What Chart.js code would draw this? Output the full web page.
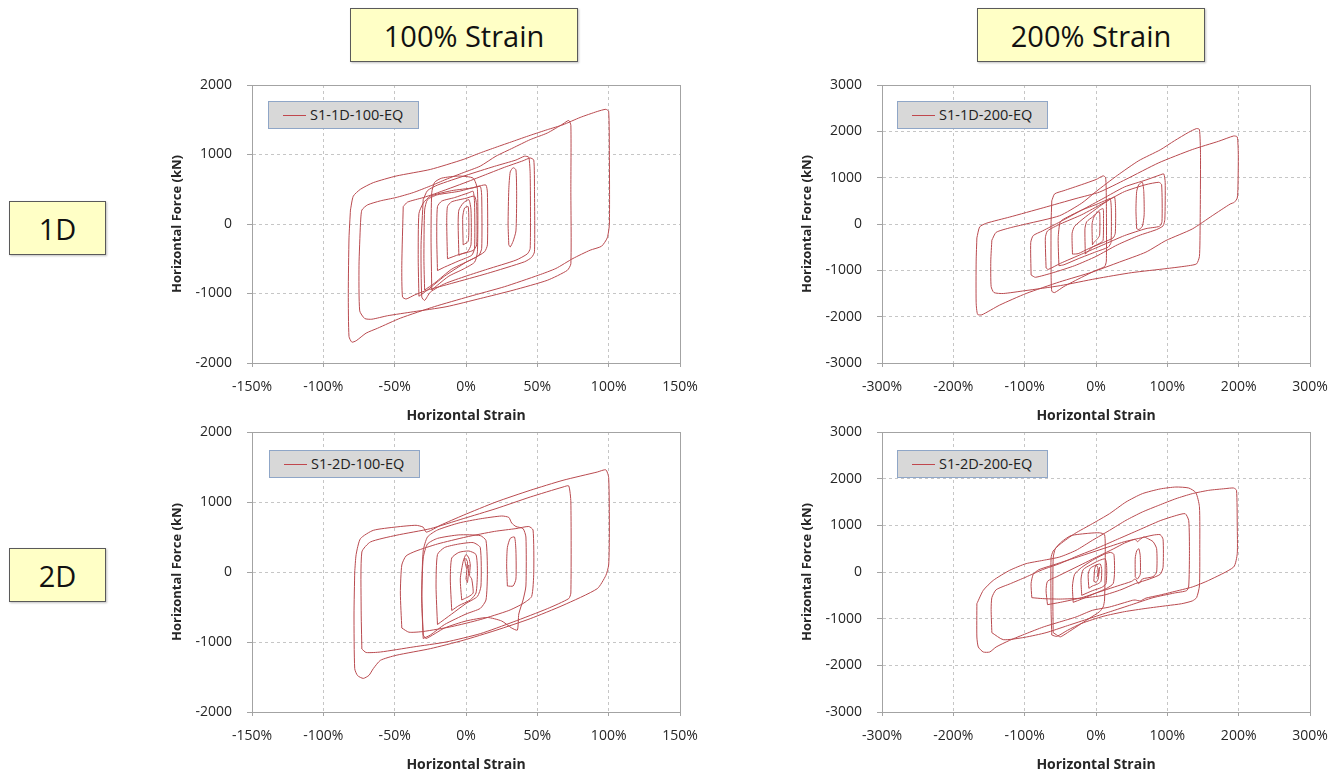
<!DOCTYPE html>
<html><head><meta charset="utf-8">
<script src="https://cdn.jsdelivr.net/npm/chart.js@4.4.1/dist/chart.umd.min.js"></script>
<style>
html,body{margin:0;padding:0;background:#fff;}
body{width:1338px;height:774px;overflow:hidden;position:relative;font-family:'Open Sans',sans-serif;}
.box{position:absolute;background:#ffffc6;border:1px solid #5a5a5a;box-shadow:1px 1px 2px rgba(0,0,0,0.25);display:flex;align-items:center;justify-content:center;font-size:29px;color:#111;box-sizing:border-box;}
canvas{position:absolute;}
.leg{position:absolute;width:151px;height:28px;background:#d8d8d8;border:1px solid #8fa6c7;box-sizing:border-box;font-size:14.5px;color:#222;}
.leg .ln{position:absolute;left:14px;top:13px;width:23px;height:1px;background:#c0474d;}
.leg .tx{position:absolute;left:41px;top:2px;line-height:22px;white-space:nowrap;}
</style></head><body>
<div class="box" style="left:350px;top:8px;width:228px;height:54px">100% Strain</div>
<div class="box" style="left:977px;top:8px;width:228px;height:54px">200% Strain</div>
<div class="box" style="left:9px;top:201px;width:97px;height:54px">1D</div>
<div class="box" style="left:9px;top:548px;width:97px;height:54px">2D</div>

<canvas id="c1" width="550" height="369" style="left:160px;top:61px"></canvas>
<canvas id="c2" width="550" height="369" style="left:790px;top:61px"></canvas>
<canvas id="c3" width="550" height="371" style="left:160px;top:408px"></canvas>
<canvas id="c4" width="550" height="371" style="left:790px;top:408px"></canvas>

<div class="leg" style="left:268px;top:101px"><span class="ln"></span><span class="tx" id="t1"></span></div>
<div class="leg" style="left:897px;top:101px"><span class="ln"></span><span class="tx" id="t2"></span></div>
<div class="leg" style="left:269px;top:450px"><span class="ln"></span><span class="tx" id="t3"></span></div>
<div class="leg" style="left:897px;top:450px"><span class="ln"></span><span class="tx" id="t4"></span></div>

<script>
// ---- series names ----
const seriesNames = ['S1-1D-100-EQ', 'S1-1D-200-EQ', 'S1-2D-100-EQ', 'S1-2D-200-EQ'];

// ---- tick labels ----
const xTicks100 = [-150, -100, -50, 0, 50, 100, 150];
const yTicks100 = [-2000, -1000, 0, 1000, 2000];
const xTicks200 = [-300, -200, -100, 0, 100, 200, 300];
const yTicks200 = [-3000, -2000, -1000, 0, 1000, 2000, 3000];

// ---- data: [strain %, force kN] loops ----
const loops1D100 = [
 [[-81,200],[-79,400],[-74,500],[-65,595],[-49,690],[-25,785],[-2,928],[10,1023],[21,1104],[33,1190],[45,1276],[57,1357],[68,1428],[80,1533],[92,1619],[98,1650],[100,1620],[100.5,1000],[100.5,0],[99,-200],[95,-320],[87,-377],[75,-496],[63,-640],[51,-735],[27,-902],[2,-1045],[-22,-1188],[-46,-1355],[-62,-1500],[-70,-1570],[-77,-1680],[-80,-1700],[-82,-1620],[-82.5,-1000],[-82,-200],[-81,200]],
 [[-74,0],[-73,200],[-69,275],[-60,333],[-49,381],[-37,452],[-25,547],[-14,642],[-2,738],[10,833],[21,976],[33,1095],[45,1214],[57,1309],[68,1440],[72,1490],[73.5,1420],[73.5,500],[73.5,-572],[71,-667],[57,-810],[33,-953],[10,-1072],[-14,-1191],[-37,-1263],[-55,-1320],[-66,-1370],[-71,-1360],[-74.5,-1250],[-75,-600],[-74,0]],
 [[-44,250],[-41,315],[-30,380],[-22,434],[0,600],[15,720],[27,816],[40,910],[45,950],[47.5,920],[48,500],[48,-400],[46,-480],[41,-544],[15,-711],[-10,-854],[-27,-950],[-36,-1021],[-42,-1079],[-44.5,-1050],[-45,-600],[-44,250]],
 [[-30,350],[-27,480],[-20,560],[0,700],[20,830],[35,920],[41,975],[44,960],[45,700],[45,-350],[43,-430],[35,-520],[15,-650],[0,-750],[-15,-860],[-25,-980],[-29,-1100],[-31,-1050],[-31.5,-300],[-30,350]],
 [[30,-300],[29.5,0],[30,500],[31,750],[33,810],[35,780],[35.5,400],[35,-100],[33,-250],[31,-330],[30,-300]],
 [[-29,-950],[-29.5,-500],[-29,200],[-27,350],[-20,420],[-5,470],[10,550],[14,560],[15,450],[15,-300],[13,-400],[5,-500],[-10,-650],[-22,-850],[-29,-950]],
 [[-33,-1040],[-33.5,-500],[-33,150],[-30,300],[-25,400],[-10,480],[5,520],[10,540],[11,400],[11,-350],[9,-450],[0,-550],[-15,-750],[-27,-950],[-33,-1040]],
 [[-24,-950],[-24.5,-200],[-24,450],[-22,600],[-17,660],[-5,690],[5,660],[8,500],[8,-400],[6,-550],[-2,-650],[-12,-750],[-20,-880],[-24,-950]],
 [[-20,-670],[-20.5,-200],[-20,250],[-17,330],[-8,380],[2,450],[5,470],[6,300],[6,-350],[4,-450],[-5,-530],[-15,-620],[-20,-670]],
 [[-13,-500],[-13.5,0],[-13,250],[-10,320],[0,370],[6,400],[7.5,250],[7.5,-300],[5,-380],[-5,-440],[-13,-500]],
 [[-5,-450],[-5.5,0],[-5,200],[-2,300],[2,350],[3.5,200],[3.5,-300],[1,-400],[-3,-430],[-5,-450]],
 [[-2,-300],[-2.3,100],[-1,230],[1.5,250],[2,0],[1.5,-250],[-2,-300]]
];

const loops1D200 = [
 [[-167,-300],[-163,-60],[-153,20],[-121,150],[-74,350],[-28,550],[5,690],[42,964],[88,1321],[135,1607],[172,1786],[193,1900],[198,1880],[199.5,1500],[199,800],[198,560],[194,470],[188,430],[163,179],[135,-107],[98,-357],[70,-607],[33,-821],[-5,-1036],[-51,-1250],[-98,-1500],[-135,-1750],[-160,-1960],[-166,-1950],[-168,-1700],[-168,-800],[-167,-300]],
 [[-146,-350],[-140,-180],[-120,-80],[-98,0],[-51,179],[-20,450],[0,700],[30,1050],[60,1367],[90,1600],[110,1797],[130,1980],[141,2060],[145,2040],[146.5,1500],[146,0],[145,-700],[141,-860],[130,-900],[100,-960],[50,-1050],[0,-1180],[-50,-1330],[-100,-1440],[-130,-1500],[-143,-1480],[-147,-1350],[-147.5,-800],[-146,-350]],
 [[-62,500],[-58,650],[-45,720],[-20,850],[0,960],[10,1040],[13.5,1000],[14.5,500],[14.5,-800],[12,-920],[0,-1000],[-20,-1150],[-45,-1350],[-58,-1480],[-62,-1450],[-63,-1000],[-63,0],[-62,500]],
 [[-91,-1100],[-91.5,-400],[-88,-250],[-75,-150],[-50,50],[-20,300],[10,550],[40,800],[70,950],[90,1060],[95,1080],[97,900],[96.5,100],[94,-40],[85,-120],[60,-250],[30,-450],[0,-700],[-30,-900],[-60,-1050],[-85,-1150],[-91,-1100]],
 [[-70,-950],[-71,-300],[-68,-150],[-50,0],[-20,200],[10,450],[40,700],[70,850],[88,900],[92,850],[92.5,50],[89,-50],[70,-100],[40,-250],[10,-450],[-20,-650],[-50,-850],[-67,-980],[-70,-950]],
 [[57,-100],[56,300],[57,700],[60,850],[65,900],[67,700],[67.5,200],[65,-50],[60,-120],[57,-100]],
 [[-33,-650],[-33.5,-200],[-30,-50],[-15,150],[5,380],[20,540],[26,580],[27.5,300],[27,-200],[24,-300],[10,-400],[-10,-530],[-25,-640],[-33,-650]],
 [[-52,-900],[-53,-300],[-50,50],[-40,150],[-20,300],[0,420],[15,520],[20,550],[21.5,300],[21,-400],[17,-500],[0,-600],[-25,-750],[-45,-880],[-52,-900]],
 [[-15,-650],[-15.5,-100],[-13,50],[-5,150],[5,300],[10,330],[10.5,100],[10,-350],[7,-400],[-5,-500],[-15,-650]],
 [[-5,-450],[-5.5,0],[-3,150],[2,250],[5,260],[5.5,0],[5,-250],[2,-320],[-3,-400],[-5,-450]]
];

const loops2D100 = [
 [[-78,0],[-77,250],[-74,476],[-65,595],[-49,643],[-35,667],[-30,640],[-28,570],[-24,600],[-18,667],[-2,810],[21,1000],[45,1167],[68,1310],[92,1428],[98,1460],[100,1350],[100.5,600],[100,100],[98,-50],[92,-238],[68,-476],[45,-667],[21,-833],[-2,-976],[-25,-1095],[-49,-1190],[-60,-1262],[-65,-1381],[-68,-1476],[-72,-1520],[-76,-1480],[-78,-1381],[-78.5,-600],[-78,0]],
 [[-73,-1100],[-73.5,-500],[-73,286],[-67,429],[-49,524],[-25,619],[-2,762],[21,905],[45,1071],[68,1214],[72,1230],[73.5,1000],[73.5,-300],[72,-380],[57,-524],[33,-714],[10,-881],[-14,-1000],[-37,-1071],[-60,-1143],[-70,-1150],[-73,-1100]],
 [[-45,-800],[-46,-300],[-45,100],[-42,230],[-35,300],[-20,400],[0,500],[20,580],[35,620],[44,650],[47,600],[47.5,0],[46,-350],[40,-450],[30,-550],[10,-680],[-10,-780],[-30,-850],[-40,-860],[-45,-800]],
 [[-30,-900],[-31,-300],[-30,300],[-27,500],[-20,600],[-5,700],[10,760],[25,800],[30,780],[32,700],[35,650],[40,620],[42,500],[42,-200],[40,-400],[37,-600],[36,-830],[32,-800],[25,-700],[15,-650],[0,-700],[-15,-800],[-28,-950],[-30,-900]],
 [[-30,-950],[-31,-400],[-30,200],[-27,400],[-20,480],[-5,530],[10,520],[14,450],[15,0],[14,-400],[10,-520],[0,-600],[-15,-750],[-25,-900],[-30,-950]],
 [[-20,-750],[-21,-200],[-20,250],[-15,350],[-5,400],[5,420],[10,350],[10.5,-200],[8,-350],[0,-450],[-10,-600],[-20,-750]],
 [[-10,-550],[-11,-100],[-10,200],[-5,280],[2,300],[7,250],[8,0],[7,-300],[3,-400],[-5,-480],[-10,-550]],
 [[-3,-400],[-4,-100],[-2,150],[0,250],[2,200],[3,100],[2.5,-50],[4,-100],[5,-300],[2,-350],[-1,-380],[-3,-400]],
 [[0,-100],[1,150],[-1,200],[0.5,50],[2,100],[1,-150],[0,-100]],
 [[29,-200],[28.5,100],[29,350],[31,480],[34,500],[35,300],[35,-100],[33,-200],[29,-200]]
];

const loops2D200 = [
 [[-167,-679],[-158,-393],[-144,-179],[-121,36],[-98,179],[-74,250],[-51,321],[-28,464],[-5,679],[19,893],[42,1107],[65,1286],[88,1429],[112,1571],[135,1679],[158,1750],[181,1786],[193,1800],[197,1750],[198,1000],[198,393],[193,107],[158,-179],[135,-321],[107,-429],[88,-500],[70,-560],[62,-620],[55,-600],[51,-607],[19,-750],[-5,-821],[-28,-964],[-51,-1071],[-74,-1179],[-98,-1321],[-121,-1464],[-140,-1607],[-149,-1714],[-158,-1714],[-165,-1607],[-167,-1393],[-167,-679]],
 [[-62,-1350],[-63,-800],[-63,300],[-60,450],[-50,600],[-30,821],[-5,1036],[19,1250],[42,1500],[65,1679],[90,1780],[112,1821],[130,1800],[140,1700],[145,1400],[145.5,500],[145,-300],[141,-550],[135,-620],[120,-680],[100,-720],[70,-780],[40,-850],[10,-950],[-20,-1100],[-40,-1250],[-55,-1380],[-62,-1350]],
 [[-60,-1300],[-60.5,-600],[-60,300],[-57,500],[-48,650],[-35,780],[-10,830],[5,840],[12,800],[13,400],[12,-600],[10,-750],[5,-850],[-10,-1000],[-25,-1150],[-40,-1300],[-50,-1390],[-55,-1350],[-60,-1300]],
 [[-146,-1300],[-147,-800],[-146,-550],[-140,-380],[-120,-250],[-98,-107],[-75,50],[-51,179],[-25,350],[0,500],[30,700],[60,900],[90,1100],[110,1200],[125,1250],[130,1100],[131,400],[130,-300],[127,-400],[110,-450],[80,-550],[50,-700],[20,-850],[-10,-1000],[-40,-1150],[-70,-1300],[-100,-1400],[-130,-1450],[-146,-1300]],
 [[-90,-550],[-91,-250],[-88,-50],[-80,50],[-60,150],[-40,250],[-20,350],[0,450],[20,550],[40,650],[60,720],[80,790],[90,800],[94,700],[94,100],[90,-50],[75,-150],[55,-250],[35,-380],[10,-500],[-20,-560],[-50,-580],[-75,-570],[-90,-550]],
 [[-68,-700],[-70,-400],[-68,-200],[-55,-100],[-35,50],[-15,200],[5,350],[25,500],[40,620],[50,680],[55,700],[58,650],[62,700],[67,750],[72,720],[80,650],[85,500],[85,0],[80,-100],[65,-150],[60,-250],[55,-150],[50,-200],[30,-300],[10,-400],[-20,-550],[-50,-650],[-68,-700]],
 [[55,-100],[55,300],[57,450],[60,500],[62,350],[62,-50],[58,-150],[55,-100]],
 [[-32,-650],[-33,-300],[-30,-50],[-20,100],[-5,250],[10,370],[20,420],[25,380],[26,0],[24,-250],[15,-350],[0,-450],[-20,-580],[-32,-650]],
 [[-20,-500],[-21,-150],[-18,50],[-8,150],[5,250],[13,280],[15,100],[14,-250],[8,-330],[-5,-400],[-20,-500]],
 [[-10,-350],[-11,-50],[-8,80],[0,150],[6,170],[8,50],[7,-200],[2,-260],[-5,-300],[-10,-350]],
 [[-3,-200],[-2,50],[0,150],[2,120],[3,0],[2,-100],[4,50],[5,100],[3,-150],[0,-220],[-3,-200]]
];

// ---- drawing ----
const LINE = '#b94a4f';
const GRID = '#c6c6c6';
const AXIS = '#a3a3a3';
const TXT = '#262626';

const framePlugin = {
  id: 'frame',
  afterDraw(chart) {
    const {ctx, chartArea: a} = chart;
    ctx.save();
    ctx.strokeStyle = AXIS;
    ctx.lineWidth = 1;
    ctx.strokeRect(Math.round(a.left) + 0.5, Math.round(a.top) + 0.5, Math.round(a.right - a.left), Math.round(a.bottom - a.top));
    ctx.restore();
  }
};

function makeChart(id, loops, xTicks, yTicks) {
  const datasets = loops.map(l => ({
    data: l.map(p => ({x: p[0], y: p[1]})),
    showLine: true, borderColor: LINE, borderWidth: 1, pointRadius: 0,
    tension: 0.2, fill: false
  }));
  const xStep = xTicks[1] - xTicks[0];
  const yStep = yTicks[1] - yTicks[0];
  new Chart(document.getElementById(id), {
    type: 'scatter',
    data: {datasets},
    options: {
      responsive: false, animation: false, events: [],
      layout: {padding: {top: 24, right: 30, left: 0, bottom: 0}},
      plugins: {legend: {display: false}, tooltip: {enabled: false}},
      scales: {
        x: {
          type: 'linear', min: xTicks[0], max: xTicks[xTicks.length - 1],
          ticks: {stepSize: xStep, callback: v => v + '%', font: {family: 'Open Sans', size: 14}, color: TXT, padding: 12, maxRotation: 0, autoSkip: false},
          grid: {color: GRID, tickColor: AXIS, tickLength: 4, tickBorderDash: []},
          border: {color: AXIS, dash: [3, 3]},
          title: {display: true, text: 'Horizontal Strain', font: {family: 'Open Sans', size: 14, weight: 'bold'}, color: TXT, padding: {top: 0, bottom: 6}},
          afterFit: s => { s.height = 67; }
        },
        y: {
          type: 'linear', min: yTicks[0], max: yTicks[yTicks.length - 1],
          ticks: {stepSize: yStep, callback: v => String(v), font: {family: 'Open Sans', size: 14}, color: TXT, padding: 15, autoSkip: false},
          grid: {color: GRID, tickColor: AXIS, tickLength: 5, tickBorderDash: []},
          border: {color: AXIS, dash: [3, 3]},
          title: {display: true, text: 'Horizontal Force (kN)', font: {family: 'Open Sans', size: 13, weight: 'bold'}, color: TXT, padding: {top: 9, bottom: 0}},
          afterFit: s => { s.width = 92; }
        }
      }
    },
    plugins: [framePlugin]
  });
}

makeChart('c1', loops1D100, xTicks100, yTicks100);
makeChart('c2', loops1D200, xTicks200, yTicks200);
makeChart('c3', loops2D100, xTicks100, yTicks100);
makeChart('c4', loops2D200, xTicks200, yTicks200);

['t1','t2','t3','t4'].forEach((t, i) => { document.getElementById(t).textContent = seriesNames[i]; });
</script>
</body></html>
